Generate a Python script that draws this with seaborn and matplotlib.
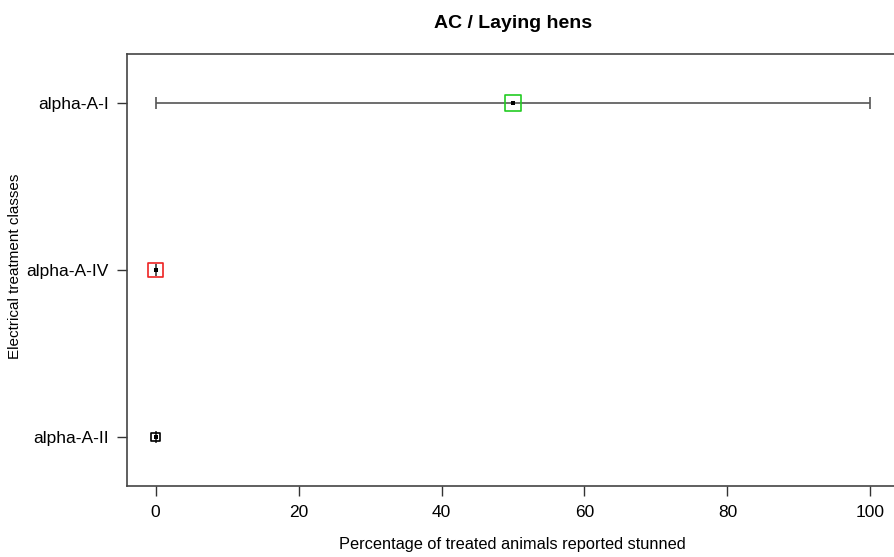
import numpy as np
import pandas as pd
import matplotlib
matplotlib.use('Agg')
import matplotlib.pyplot as plt
import seaborn as sns

# data
classes = ['alpha-A-I', 'alpha-A-IV', 'alpha-A-II']
estimate = [50, 0, 0]
lower = [0, 0, 0]
upper = [100, 0, 0]
box_colors = ['#22cc22', '#ee2222', '#000000']
box_sizes = [120, 110, 40]

df = pd.DataFrame({'cls': classes, 'est': estimate, 'lo': lower, 'hi': upper})
df['pos'] = np.arange(len(classes))[::-1] + 1

sns.set_style('white')
plt.rcParams['font.family'] = ['Liberation Sans', 'DejaVu Sans']
plt.rcParams['text.color'] = 'black'

fig = plt.figure(figsize=(8.95, 5.57), dpi=100)
ax = fig.add_axes([127 / 895, 1 - 486 / 557, 772 / 895, 432 / 557])

# range bars with small caps
ax.errorbar(df['est'], df['pos'],
            xerr=[df['est'] - df['lo'], df['hi'] - df['est']],
            fmt='none', ecolor='#555555', elinewidth=1.2, capsize=4, capthick=1.2, zorder=1)

# open squares
for i, row in df.iterrows():
    sns.scatterplot(x=[row['est']], y=[row['pos']], marker='s', s=box_sizes[i],
                    facecolors='none', edgecolor=box_colors[i], linewidth=1.2, ax=ax, zorder=2)
# centre dots
sns.scatterplot(data=df, x='est', y='pos', marker='s', s=5, color='black',
                linewidth=0, ax=ax, zorder=3)

ax.set_xlim(-4, 104)
ax.set_ylim(0.707, 3.293)
ax.set_xticks([0, 20, 40, 60, 80, 100])
ax.set_yticks(df['pos'])
ax.set_yticklabels(df['cls'])
ax.set_xlabel('')
ax.set_ylabel('')
ax.tick_params(axis='both', bottom=True, left=True, direction='out', length=7, width=1,
               colors='#333333', labelsize=12.5, labelcolor='black', pad=6)
ax.tick_params(axis='x', pad=7)

for s in ['left', 'bottom', 'top', 'right']:
    ax.spines[s].set_color('#444444')
    ax.spines[s].set_linewidth(1.2)

fig.text(512 / 895, 1 - 545 / 557, 'Percentage of treated animals reported stunned',
         ha='center', va='center', fontsize=11.75, color='black')
fig.text(15 / 895, 1 - 266 / 557, 'Electrical treatment classes', ha='center', va='center',
         rotation=90, fontsize=11, color='black')
fig.text(513 / 895, 1 - 23 / 557, 'AC / Laying hens', ha='center', va='center',
         fontsize=14, fontweight='bold', color='black')

fig.savefig('out.png', dpi=100)
